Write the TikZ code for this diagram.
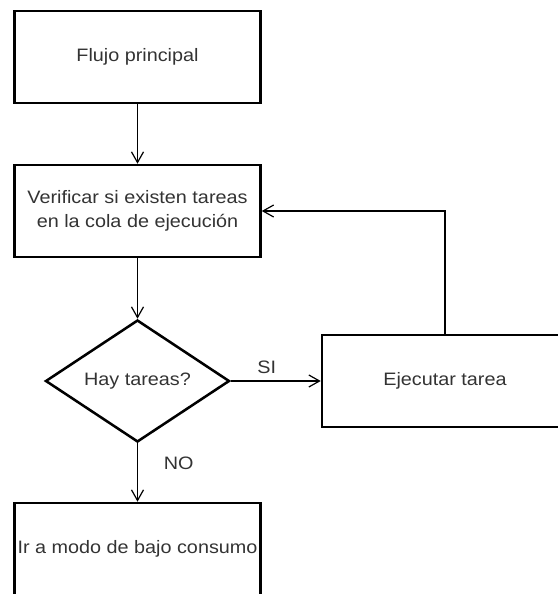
\documentclass[tikz,border=0pt]{standalone}
\usepackage{fontspec}
\setmainfont{Liberation Sans}[FakeStretch=1.1]
\usetikzlibrary{shapes.geometric,arrows.meta}
\definecolor{texto}{RGB}{51,51,51}
\tikzset{
  caja/.style={draw, line width=1.9pt, minimum width=184.5pt, minimum height=69pt, inner sep=0pt, align=center, text=texto, font=\fontsize{13.5}{18}\selectfont},
  decision/.style={draw, diamond, line width=1.9pt, minimum width=138pt, minimum height=91.5pt, aspect=1.5, inner sep=0pt, text=texto, font=\fontsize{13.5}{18}\selectfont},
  flecha/.style={line width=0.9pt, -{Straight Barb[length=8pt,width=9pt]}},
  etiqueta/.style={text=texto, font=\fontsize{13.5}{18}\selectfont}
}
\begin{document}
\begin{tikzpicture}[x=0.75pt,y=-0.75pt]
\useasboundingbox (0,0) rectangle (558,594);
\clip (0,0) rectangle (558,594);
\node [caja] (flujo) at (137.5,57) {Flujo principal};
\node [caja] (verificar) at (137.5,211) {Verificar si existen tareas\\en la cola de ejecución};
\node [decision] (hay) at (137.5,381) {Hay tareas?};
\node [caja] (ejecutar) at (445,381) {Ejecutar tarea};
\node [caja] (bajo) at (137.5,549) {Ir a modo de bajo consumo};
\draw [flecha] (flujo) -- (verificar);
\draw [flecha] (verificar) -- (hay);
\draw [flecha] (hay) -- node[etiqueta, pos=0.4, above=2pt] {SI} (ejecutar);
\draw [flecha] (hay) -- node[etiqueta, pos=0.35, right=16pt] {NO} (bajo);
\draw [flecha] (ejecutar.north) |- (verificar.east);
\end{tikzpicture}
\end{document}
